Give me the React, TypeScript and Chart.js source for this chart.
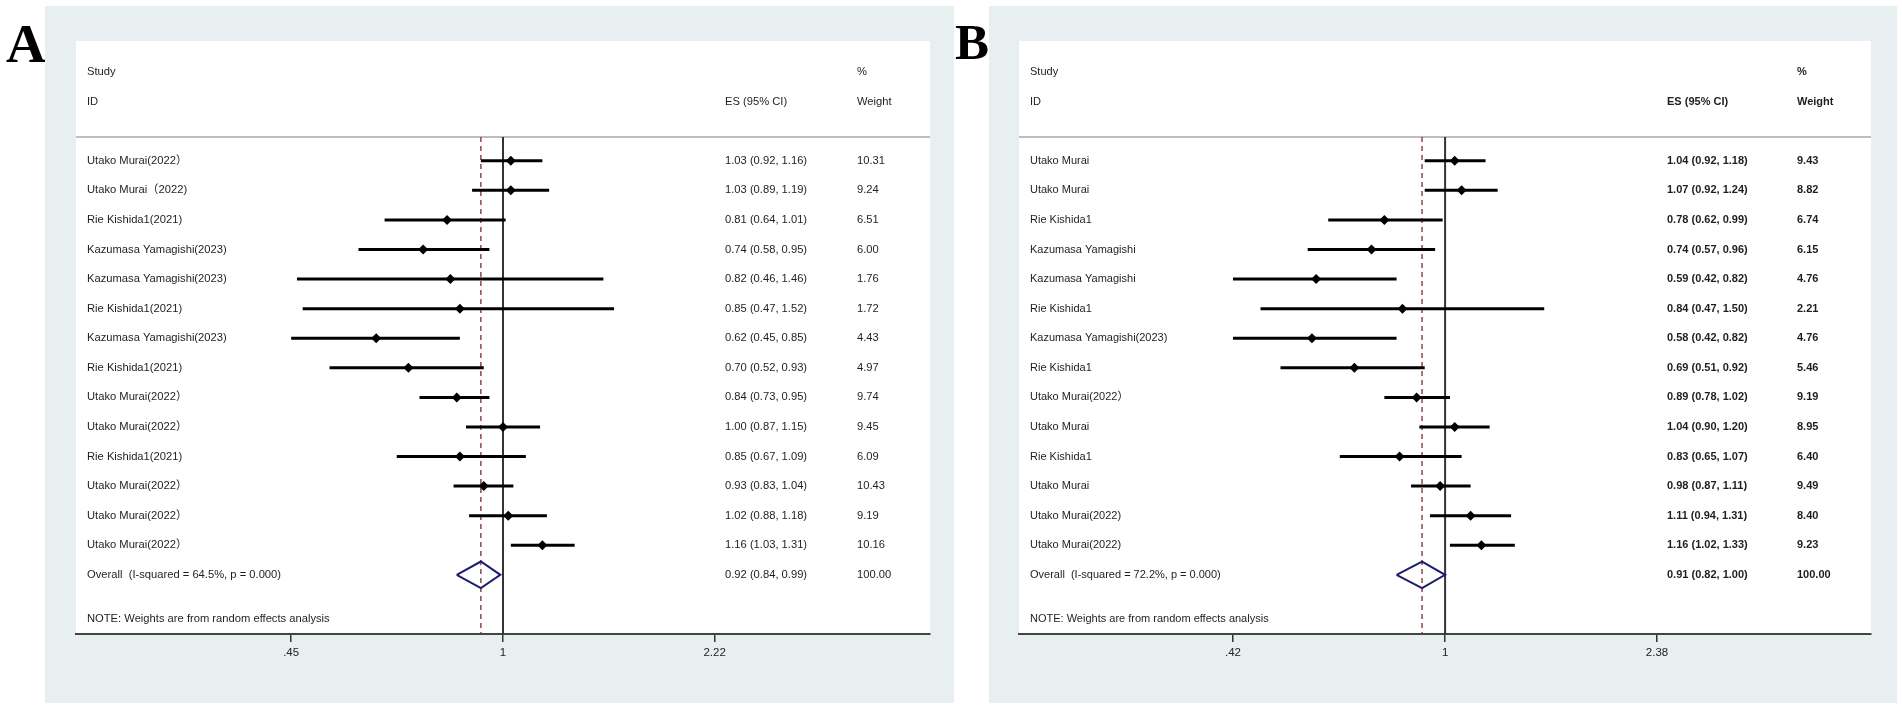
import React, { useEffect, useRef } from "react";
import { Chart, registerables } from "chart.js";
Chart.register(...registerables);

// ---------- Panel A data ----------
const studiesA = [
  "Utako Murai(2022）",
  "Utako Murai（2022)",
  "Rie Kishida1(2021)",
  "Kazumasa Yamagishi(2023)",
  "Kazumasa Yamagishi(2023)",
  "Rie Kishida1(2021)",
  "Kazumasa Yamagishi(2023)",
  "Rie Kishida1(2021)",
  "Utako Murai(2022）",
  "Utako Murai(2022）",
  "Rie Kishida1(2021)",
  "Utako Murai(2022）",
  "Utako Murai(2022）",
  "Utako Murai(2022）",
];
const esA = [1.03, 1.03, 0.81, 0.74, 0.82, 0.85, 0.62, 0.7, 0.84, 1.0, 0.85, 0.93, 1.02, 1.16];
const lowerA = [0.92, 0.89, 0.64, 0.58, 0.46, 0.47, 0.45, 0.52, 0.73, 0.87, 0.67, 0.83, 0.88, 1.03];
const upperA = [1.16, 1.19, 1.01, 0.95, 1.46, 1.52, 0.85, 0.93, 0.95, 1.15, 1.09, 1.04, 1.18, 1.31];
const weightsA = [10.31, 9.24, 6.51, 6.0, 1.76, 1.72, 4.43, 4.97, 9.74, 9.45, 6.09, 10.43, 9.19, 10.16];
const overallA = [0.92, 0.84, 0.99]; // es, lower, upper
const overallLabelA = "Overall  (I-squared = 64.5%, p = 0.000)";
const tickValuesA = [0.45, 1, 2.22];
const tickLabelsA = [".45", "1", "2.22"];
const axisRangeA = [0.2, 5];

// ---------- Panel B data ----------
const studiesB = [
  "Utako Murai",
  "Utako Murai",
  "Rie Kishida1",
  "Kazumasa Yamagishi",
  "Kazumasa Yamagishi",
  "Rie Kishida1",
  "Kazumasa Yamagishi(2023)",
  "Rie Kishida1",
  "Utako Murai(2022）",
  "Utako Murai",
  "Rie Kishida1",
  "Utako Murai",
  "Utako Murai(2022)",
  "Utako Murai(2022)",
];
const esB = [1.04, 1.07, 0.78, 0.74, 0.59, 0.84, 0.58, 0.69, 0.89, 1.04, 0.83, 0.98, 1.11, 1.16];
const lowerB = [0.92, 0.92, 0.62, 0.57, 0.42, 0.47, 0.42, 0.51, 0.78, 0.9, 0.65, 0.87, 0.94, 1.02];
const upperB = [1.18, 1.24, 0.99, 0.96, 0.82, 1.5, 0.82, 0.92, 1.02, 1.2, 1.07, 1.11, 1.31, 1.33];
const weightsB = [9.43, 8.82, 6.74, 6.15, 4.76, 2.21, 4.76, 5.46, 9.19, 8.95, 6.4, 9.49, 8.4, 9.23];
const overallB = [0.91, 0.82, 1.0];
const overallLabelB = "Overall  (I-squared = 72.2%, p = 0.000)";
const tickValuesB = [0.42, 1, 2.38];
const tickLabelsB = [".42", "1", "2.38"];
const axisRangeB = [0.175, 5.71];

const noteText = "NOTE: Weights are from random effects analysis";
const FONT = "'Liberation Sans', Arial, 'Noto Sans CJK SC', sans-serif";

type PanelProps = {
  studies: string[];
  es: number[];
  lower: number[];
  upper: number[];
  weights: number[];
  overall: number[];
  overallLabel: string;
  tickValues: number[];
  tickLabels: string[];
  range: number[];
  left: number;
  width: number;
  padLeft: number;
  padRight: number;
  esOffset: number;
  wOffset: number;
  fontSize: number;
  boldCols: boolean;
};

function fmt(es: number, lo: number, hi: number) {
  return `${es.toFixed(2)} (${lo.toFixed(2)}, ${hi.toFixed(2)})`;
}

function ForestPanel(p: PanelProps) {
  const ref = useRef<HTMLCanvasElement | null>(null);
  const H = 697;
  useEffect(() => {
    if (!ref.current) return;
    const n = p.es.length;
    const headerY = -0.8;
    const yMax = 16;
    const overallRow = n;
    const datasets: any[] = [];
    datasets.push({
      data: p.es.map((v, i) => ({ x: v, y: i })),
      pointStyle: "rectRot",
      pointRadius: 5,
      backgroundColor: "#000",
      borderColor: "#000",
      borderWidth: 0,
      showLine: false,
      order: 0,
    });
    p.es.forEach((_, i) => {
      datasets.push({
        data: [
          { x: p.lower[i], y: i },
          { x: p.upper[i], y: i },
        ],
        showLine: true,
        borderColor: "#000",
        borderWidth: 3,
        pointRadius: 0,
        order: 1,
      });
    });
    const [oe, ol, oh] = p.overall;
    datasets.push({
      data: [
        { x: ol, y: overallRow },
        { x: oe, y: overallRow - 0.45 },
        { x: oh, y: overallRow },
        { x: oe, y: overallRow + 0.45 },
        { x: ol, y: overallRow },
      ],
      showLine: true,
      borderColor: "#1d1d6e",
      borderWidth: 2,
      pointRadius: 0,
      tension: 0,
      order: 1,
    });
    datasets.push({
      data: [
        { x: oe, y: headerY },
        { x: oe, y: yMax },
      ],
      showLine: true,
      borderColor: "#8a3838",
      borderWidth: 1.4,
      borderDash: [5, 4],
      pointRadius: 0,
      order: 2,
    });
    datasets.push({
      data: [
        { x: 1, y: headerY },
        { x: 1, y: yMax },
      ],
      showLine: true,
      borderColor: "#333333",
      borderWidth: 2,
      pointRadius: 0,
      order: 3,
    });
    datasets.push({
      data: [
        { x: p.range[0], y: headerY },
        { x: p.range[1], y: headerY },
      ],
      showLine: true,
      borderColor: "#a8a8a8",
      borderWidth: 1.5,
      pointRadius: 0,
      order: 3,
    });

    const bgPlugin = {
      id: "bg",
      beforeDraw(chart: any) {
        const { ctx, chartArea } = chart;
        ctx.save();
        ctx.fillStyle = "#e8eff1";
        ctx.fillRect(0, 0, chart.width, chart.height);
        ctx.fillStyle = "#ffffff";
        ctx.fillRect(chartArea.left, chartArea.top, chartArea.right - chartArea.left, chartArea.bottom - chartArea.top);
        ctx.restore();
      },
    };

    const textPlugin = {
      id: "texts",
      afterDatasetsDraw(chart: any) {
        const { ctx, chartArea } = chart;
        const ys = chart.scales.y;
        const lx = chartArea.left + 11;
        const ex = chartArea.left + p.esOffset;
        const wx = chartArea.left + p.wOffset;
        const reg = `${p.fontSize}px ${FONT}`;
        const col = `${p.boldCols ? "bold " : ""}${p.fontSize}px ${FONT}`;
        ctx.save();
        ctx.fillStyle = "#1e1e1e";
        ctx.textBaseline = "middle";
        ctx.textAlign = "left";
        ctx.font = reg;
        ctx.fillText("Study", lx, ys.getPixelForValue(-3));
        ctx.fillText("ID", lx, ys.getPixelForValue(-2));
        p.studies.forEach((s, i) => ctx.fillText(s, lx, ys.getPixelForValue(i)));
        ctx.fillText(p.overallLabel, lx, ys.getPixelForValue(overallRow));
        ctx.fillText(noteText, lx, ys.getPixelForValue(overallRow + 1.5));
        ctx.font = col;
        ctx.fillText("ES (95% CI)", ex, ys.getPixelForValue(-2));
        ctx.fillText("%", wx, ys.getPixelForValue(-3));
        ctx.fillText("Weight", wx, ys.getPixelForValue(-2));
        p.es.forEach((v, i) => {
          const y = ys.getPixelForValue(i);
          ctx.fillText(fmt(v, p.lower[i], p.upper[i]), ex, y);
          ctx.fillText(p.weights[i].toFixed(2), wx, y);
        });
        const oy = ys.getPixelForValue(overallRow);
        ctx.fillText(fmt(oe, ol, oh), ex, oy);
        ctx.fillText((100).toFixed(2), wx, oy);
        ctx.restore();
      },
    };

    const chart = new Chart(ref.current, {
      type: "scatter",
      data: { datasets },
      options: {
        animation: false,
        responsive: false,
        maintainAspectRatio: false,
        layout: { padding: { left: p.padLeft, right: p.padRight, top: 35, bottom: 0 } },
        plugins: { legend: { display: false }, tooltip: { enabled: false } },
        scales: {
          x: {
            type: "logarithmic",
            min: p.range[0],
            max: p.range[1],
            bounds: "data",
            afterBuildTicks: (scale: any) => {
              scale.ticks = p.tickValues.map((v) => ({ value: v }));
            },
            afterFit: (scale: any) => {
              scale.height = 69;
            },
            ticks: {
              autoSkip: false,
              maxRotation: 0,
              minRotation: 0,
              padding: 4,
              color: "#222",
              font: { family: FONT, size: 11.5 },
              callback: (_v: any, i: number) => p.tickLabels[i],
            },
            grid: { drawOnChartArea: false, drawTicks: true, tickLength: 8, color: "#333", lineWidth: 1.5 },
            border: { display: true, color: "#444", width: 2 },
          },
          y: {
            type: "linear",
            display: false,
            reverse: true,
            min: -4.05,
            max: 16,
          },
        },
      } as any,
      plugins: [bgPlugin, textPlugin],
    });
    return () => chart.destroy();
  }, []);
  return (
    <canvas
      ref={ref}
      width={p.width}
      height={H}
      style={{ position: "absolute", left: p.left, top: 6, width: p.width, height: H }}
    />
  );
}

export default function App() {
  const letter = (t: string, left: number, top: number, size: number) => (
    <div
      style={{
        position: "absolute",
        left,
        top,
        fontFamily: "'Liberation Serif', 'Times New Roman', serif",
        fontWeight: "bold",
        fontSize: size,
        lineHeight: `${size}px`,
        color: "#000",
      }}
    >
      {t}
    </div>
  );
  return (
    <div style={{ position: "absolute", left: 0, top: 0, width: 1902, height: 709, background: "#fff", overflow: "hidden" }}>
      {letter("A", 6, 16, 55)}
      {letter("B", 955, 17, 51)}
      <ForestPanel
        studies={studiesA}
        es={esA}
        lower={lowerA}
        upper={upperA}
        weights={weightsA}
        overall={overallA}
        overallLabel={overallLabelA}
        tickValues={tickValuesA}
        tickLabels={tickLabelsA}
        range={axisRangeA}
        left={45}
        width={909}
        padLeft={31}
        padRight={24}
        esOffset={649}
        wOffset={781}
        fontSize={11.2}
        boldCols={false}
      />
      <ForestPanel
        studies={studiesB}
        es={esB}
        lower={lowerB}
        upper={upperB}
        weights={weightsB}
        overall={overallB}
        overallLabel={overallLabelB}
        tickValues={tickValuesB}
        tickLabels={tickLabelsB}
        range={axisRangeB}
        left={989}
        width={908}
        padLeft={30}
        padRight={26}
        esOffset={648}
        wOffset={778}
        fontSize={11}
        boldCols={true}
      />
    </div>
  );
}
